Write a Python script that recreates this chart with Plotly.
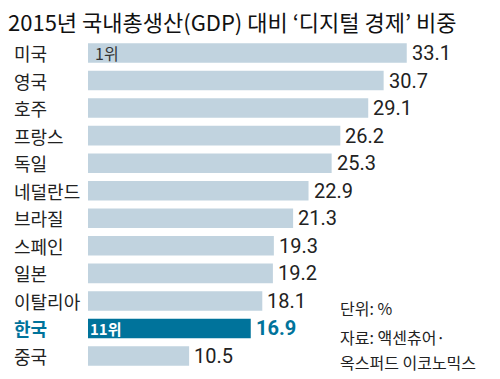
import plotly.graph_objects as go

categories = ["미국", "영국", "호주", "프랑스", "독일", "네덜란드", "브라질", "스페인", "일본", "이탈리아", "한국", "중국"]
values = [33.1, 30.7, 29.1, 26.2, 25.3, 22.9, 21.3, 19.3, 19.2, 18.1, 16.9, 10.5]
value_labels = ["33.1", "30.7", "29.1", "26.2", "25.3", "22.9", "21.3", "19.3", "19.2", "18.1", "16.9", "10.5"]
highlight = "한국"

LIGHT = "#c1d3df"
DARK = "#00739b"
TEXT = "#222222"
FONT = "Noto Sans CJK KR"
NUMFONT = "Roboto, Noto Sans CJK KR"

colors = [DARK if c == highlight else LIGHT for c in categories]

fig = go.Figure(go.Bar(
    x=values, y=categories, orientation="h",
    marker=dict(color=colors, line=dict(width=0)),
    hoverinfo="skip",
))

W, H = 500, 379
L, R, T, B = 88, 0, 38, 8
pw, ph = W - L - R, H - T - B

def px_x(px):
    return (px - L) / pw

def px_y(py):
    return 1 - (py - T) / ph

annotations = []
for c, v, lab in zip(categories, values, value_labels):
    hl = c == highlight
    annotations.append(dict(
        x=px_x(12), xref="paper", y=c, yref="y", text=c, showarrow=False,
        xanchor="left", yanchor="middle",
        font=dict(family=FONT, size=18, color=DARK if hl else TEXT,
                  weight="bold" if hl else "normal"),
    ))
    annotations.append(dict(
        x=v, xref="x", y=c, yref="y", text=lab, showarrow=False,
        xanchor="left", yanchor="middle", xshift=3,
        font=dict(family=NUMFONT, size=20, color=DARK if hl else TEXT,
                  weight="bold" if hl else "normal"),
    ))

annotations.append(dict(x=0, xref="x", y=categories[0], yref="y", text="1위",
                        showarrow=False, xanchor="left", yanchor="middle", xshift=5,
                        font=dict(family=FONT, size=16, color="#333333")))
annotations.append(dict(x=0, xref="x", y=highlight, yref="y", text="11위",
                        showarrow=False, xanchor="left", yanchor="middle", xshift=0,
                        font=dict(family=FONT, size=15, color="white", weight="bold")))

annotations.append(dict(x=px_x(6), xref="paper", y=px_y(21), yref="paper",
                        text="2015년 국내총생산(GDP) 대비 ‘디지털 경제’ 비중",
                        showarrow=False, xanchor="left", yanchor="middle",
                        font=dict(family=FONT, size=22, color="#111111")))
for txt, py in [("단위: %", 308), ("자료: 액센츄어·", 337), ("옥스퍼드 이코노믹스", 362)]:
    annotations.append(dict(x=px_x(338), y=px_y(py), xref="paper", yref="paper", text=txt,
                            showarrow=False, xanchor="left", yanchor="middle",
                            font=dict(family=FONT, size=16, color=TEXT)))

fig.update_layout(
    width=W, height=H,
    margin=dict(l=L, r=R, t=T, b=B),
    paper_bgcolor="white", plot_bgcolor="white",
    showlegend=False,
    bargap=0.29,
    xaxis=dict(range=[0, pw / 9.63], visible=False, fixedrange=True),
    yaxis=dict(autorange="reversed", visible=False, fixedrange=True),
    annotations=annotations,
)

fig.write_html("out.html", config={"displayModeBar": False},
               post_script="document.body.style.margin='0';document.body.style.overflow='hidden';")
